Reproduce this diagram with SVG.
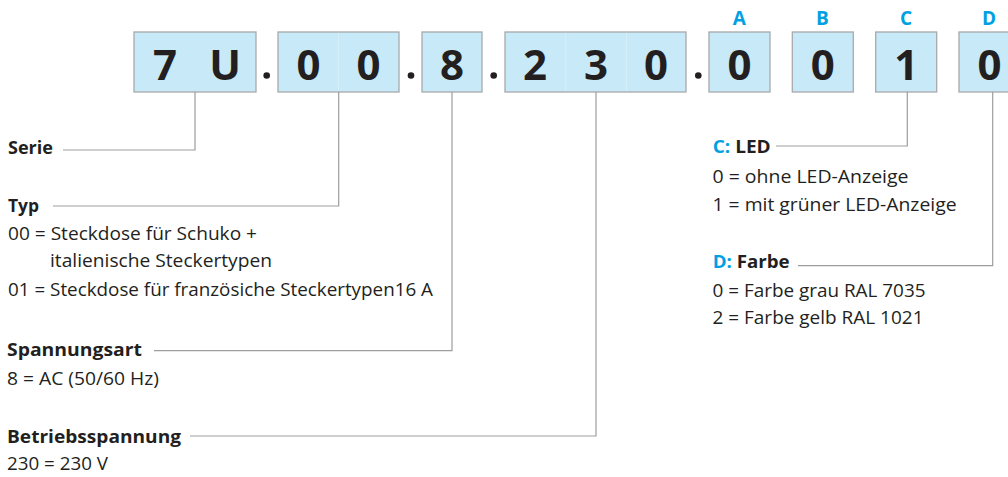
<svg xmlns="http://www.w3.org/2000/svg" width="1008" height="477" viewBox="0 0 1008 477">
<style>
.box{fill:#c8e9f8;stroke:#a7a9ac;stroke-width:1.3}
.cell{stroke:#d8f0fb;stroke-width:0.8}
.dig{font-family:"Open Sans","Noto Sans",sans-serif;font-weight:700;font-size:42px;fill:#231f20;text-anchor:middle}
.dot{fill:#231f20}
.lbl{font-family:"Open Sans","Noto Sans",sans-serif;font-weight:700;font-size:19px;fill:#00a0e3;text-anchor:middle}
.h{font-family:"Open Sans","Noto Sans",sans-serif;font-weight:700;font-size:18px;fill:#231f20}
.t{font-family:"Open Sans","Noto Sans",sans-serif;font-size:18px;fill:#231f20}
.b{fill:#00a0e3}
.con{fill:none;stroke:#9d9d9d;stroke-width:1.2}
</style>
<rect width="1008" height="477" fill="#ffffff"/>
<g id="code">
  <g id="box-7U">
    <rect class="box" x="134" y="32" width="122" height="60"/>
    <text class="dig" x="165" y="80">7</text>
    <text class="dig" x="225" y="80">U</text>
  </g>
  <circle class="dot" cx="266.7" cy="75.5" r="3.3"/>
  <g id="box-00">
    <rect class="box" x="278" y="32" width="121" height="60"/>
    <line class="cell" x1="338.5" y1="33" x2="338.5" y2="91"/>
    <text class="dig" x="308.5" y="80">0</text>
    <text class="dig" x="368.5" y="80">0</text>
  </g>
  <circle class="dot" cx="411" cy="75.5" r="3.3"/>
  <g id="box-8">
    <rect class="box" x="422" y="32" width="60" height="60"/>
    <text class="dig" x="452" y="80">8</text>
  </g>
  <circle class="dot" cx="493.7" cy="75.5" r="3.3"/>
  <g id="box-230">
    <rect class="box" x="505" y="32" width="181" height="60"/>
    <line class="cell" x1="565.7" y1="33" x2="565.7" y2="91"/>
    <line class="cell" x1="626.5" y1="33" x2="626.5" y2="91"/>
    <text class="dig" x="535" y="80">2</text>
    <text class="dig" x="596" y="80">3</text>
    <text class="dig" x="656" y="80">0</text>
  </g>
  <circle class="dot" cx="698.3" cy="75.5" r="3.3"/>
  <g id="box-A">
    <text class="lbl" x="739.3" y="25">A</text>
    <rect class="box" x="709" y="32" width="61" height="60"/>
    <text class="dig" x="739.5" y="80">0</text>
  </g>
  <g id="box-B">
    <text class="lbl" x="822.5" y="25">B</text>
    <rect class="box" x="792.3" y="32" width="61" height="60"/>
    <text class="dig" x="822.8" y="80">0</text>
  </g>
  <g id="box-C">
    <text class="lbl" x="906" y="25">C</text>
    <rect class="box" x="875.7" y="32" width="61" height="60"/>
    <text class="dig" x="906.2" y="80">1</text>
  </g>
  <g id="box-D">
    <text class="lbl" x="989" y="25">D</text>
    <rect class="box" x="959" y="32" width="61" height="60"/>
    <text class="dig" x="989.5" y="80">0</text>
  </g>
</g>
<g id="connectors">
  <polyline class="con" points="195,92 195,150 63,150"/>
  <polyline class="con" points="338.7,92 338.7,206 53,206"/>
  <polyline class="con" points="452,92 452,350.7 154,350.7"/>
  <polyline class="con" points="596,92 596,436 190,436"/>
  <polyline class="con" points="907.3,92 907.3,146 776,146"/>
  <polyline class="con" points="992.7,92 992.7,265.7 798,265.7"/>
</g>
<g id="serie">
  <text class="h" x="8" y="154" textLength="45" lengthAdjust="spacingAndGlyphs">Serie</text>
</g>
<g id="typ">
  <text class="h" x="8" y="211.5" textLength="31" lengthAdjust="spacingAndGlyphs">Typ</text>
  <text class="t" x="8" y="240" textLength="249" lengthAdjust="spacingAndGlyphs">00 = Steckdose für Schuko +</text>
  <text class="t" x="50" y="267" textLength="222" lengthAdjust="spacingAndGlyphs">italienische Steckertypen</text>
  <text class="t" x="8" y="295.7" textLength="425" lengthAdjust="spacingAndGlyphs">01 = Steckdose für französiche Steckertypen16 A</text>
</g>
<g id="spannungsart">
  <text class="h" x="7" y="356" textLength="135" lengthAdjust="spacingAndGlyphs">Spannungsart</text>
  <text class="t" x="7" y="385" textLength="152" lengthAdjust="spacingAndGlyphs">8 = AC (50/60 Hz)</text>
</g>
<g id="betriebsspannung">
  <text class="h" x="7" y="443" textLength="174" lengthAdjust="spacingAndGlyphs">Betriebsspannung</text>
  <text class="t" x="7" y="470" textLength="101" lengthAdjust="spacingAndGlyphs">230 = 230 V</text>
</g>
<g id="led">
  <text class="h" x="712.7" y="153.3" textLength="58" lengthAdjust="spacingAndGlyphs"><tspan class="b">C:</tspan> LED</text>
  <text class="t" x="712.5" y="182.7" textLength="196" lengthAdjust="spacingAndGlyphs">0 = ohne LED-Anzeige</text>
  <text class="t" x="712.5" y="211" textLength="244" lengthAdjust="spacingAndGlyphs">1 = mit grüner LED-Anzeige</text>
</g>
<g id="farbe">
  <text class="h" x="712.7" y="268.3" textLength="77" lengthAdjust="spacingAndGlyphs"><tspan class="b">D:</tspan> Farbe</text>
  <text class="t" x="712.5" y="296.7" textLength="213" lengthAdjust="spacingAndGlyphs">0 = Farbe grau RAL 7035</text>
  <text class="t" x="712.5" y="324.3" textLength="211" lengthAdjust="spacingAndGlyphs">2 = Farbe gelb RAL 1021</text>
</g>
</svg>
